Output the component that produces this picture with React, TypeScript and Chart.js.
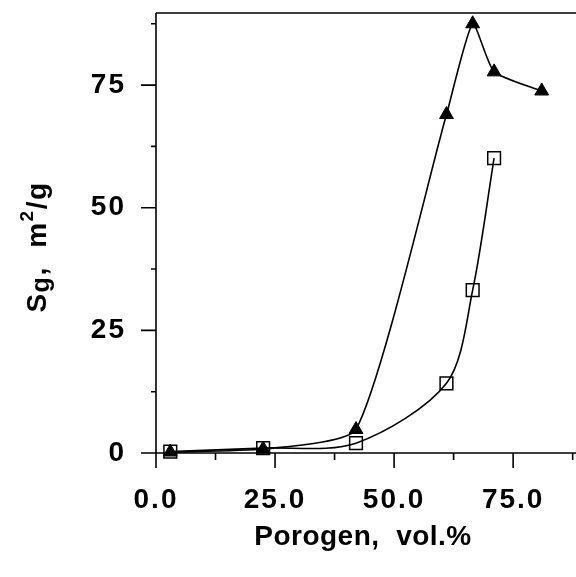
import React, { useEffect, useRef } from "react";
import { Chart, registerables } from "chart.js";

Chart.register(...registerables);

// ---- data ----
const triangleX = [3, 22.5, 42, 61, 66.5, 71, 81];
const triangleY = [0.2, 0.8, 4.8, 69, 87.5, 77.7, 73.8];
const squareX = [3, 22.5, 42, 61, 66.5, 71];
const squareY = [0.3, 1.0, 2.0, 14.2, 33.2, 60.1];

const xTickValues = [0, 12.5, 25, 37.5, 50, 62.5, 75, 87.5];
const xTickLabels = ["0.0", "25.0", "50.0", "75.0"];
const yTickValues = [0, 12.5, 25, 37.5, 50, 62.5, 75, 87.5];
const yTickLabels = ["0", "25", "50", "75"];

const X_MIN = 0;
const X_MAX = 88.2;
const Y_MIN = 0;
const Y_MAX = 89.7;

const xTitle = "Porogen,  vol.%";
const yTitleParts = [
  { text: "S", size: 28, shift: 0 },
  { text: "g", size: 25, shift: 3 },
  { text: ",  m", size: 28, shift: 0 },
  { text: "2", size: 19, shift: -13 },
  { text: "/g", size: 28, shift: 0 },
];

const FONT = '"Liberation Sans", Arial, sans-serif';

const decorPlugin = {
  id: "decor",
  beforeDraw(chart: any) {
    chart.ctx.letterSpacing = "2px";
  },
  afterDraw(chart: any) {
    const { ctx, chartArea: a, scales } = chart;
    const xs = scales.x;
    const ys = scales.y;
    ctx.save();
    ctx.letterSpacing = "0px";
    ctx.strokeStyle = "#000";
    ctx.lineWidth = 1.6;
    ctx.beginPath();
    ctx.moveTo(a.left, a.top);
    ctx.lineTo(a.left, a.bottom);
    ctx.moveTo(a.left, a.bottom);
    ctx.lineTo(a.right, a.bottom);
    ctx.moveTo(a.left, a.top);
    ctx.lineTo(a.right, a.top);
    for (const v of xTickValues) {
      const px = xs.getPixelForValue(v);
      const major = v % 25 === 0;
      ctx.moveTo(px, a.bottom);
      ctx.lineTo(px, a.bottom + (major ? 15 : 7));
    }
    for (const v of yTickValues) {
      const py = ys.getPixelForValue(v);
      const major = v % 25 === 0;
      ctx.moveTo(a.left, py);
      ctx.lineTo(a.left - (major ? 15 : 5), py);
    }
    ctx.stroke();

    // x title
    ctx.fillStyle = "#000";
    ctx.font = `bold 28px ${FONT}`;
    ctx.textAlign = "center";
    ctx.textBaseline = "alphabetic";
    ctx.letterSpacing = "0.5px";
    ctx.fillText(xTitle, (a.left + a.right) / 2 - 3, 545);

    // y title (rotated, with sub/superscript)
    ctx.letterSpacing = "1.5px";
    let total = 0;
    for (const p of yTitleParts) {
      ctx.font = `bold ${p.size}px ${FONT}`;
      total += ctx.measureText(p.text).width;
    }
    ctx.translate(46, 247);
    ctx.rotate(-Math.PI / 2);
    ctx.textAlign = "left";
    let cx = -total / 2;
    for (const p of yTitleParts) {
      ctx.font = `bold ${p.size}px ${FONT}`;
      ctx.fillText(p.text, cx, p.shift);
      cx += ctx.measureText(p.text).width;
    }
    ctx.restore();
  },
};

export default function App() {
  const ref = useRef<HTMLCanvasElement | null>(null);

  useEffect(() => {
    if (!ref.current) return;
    const tri = triangleX.map((x, i) => ({ x, y: triangleY[i] }));
    const sq = squareX.map((x, i) => ({ x, y: squareY[i] }));
    const chart = new Chart(ref.current, {
      type: "scatter",
      data: {
        datasets: [
          {
            label: "squares",
            data: sq,
            showLine: true,
            tension: 0.3,
            borderColor: "#000",
            borderWidth: 1.6,
            pointStyle: "rect",
            pointRadius: 9,
            pointBackgroundColor: "rgba(0,0,0,0)",
            pointBorderColor: "#000",
            pointBorderWidth: 1.5,
            fill: false,
            clip: false,
          } as any,
          {
            label: "triangles",
            data: tri,
            showLine: true,
            tension: 0.18,
            borderColor: "#000",
            borderWidth: 1.6,
            pointStyle: "triangle",
            pointRadius: 8,
            pointBackgroundColor: "#000",
            pointBorderColor: "#000",
            pointBorderWidth: 1,
            fill: false,
            clip: false,
          } as any,
        ],
      },
      options: {
        responsive: false,
        devicePixelRatio: 1,
        animation: false,
        events: [],
        layout: { autoPadding: false, padding: { top: 13, left: 0, right: 0, bottom: 0 } },
        plugins: {
          legend: { display: false },
          tooltip: { enabled: false },
          title: { display: false },
        },
        scales: {
          x: {
            type: "linear",
            min: X_MIN,
            max: X_MAX,
            grid: { display: false, drawTicks: false },
            border: { display: false },
            afterFit: (s: any) => {
              s.height = 124;
              s.paddingLeft = 0;
              s.paddingRight = 0;
            },
            ticks: {
              stepSize: 12.5,
              autoSkip: false,
              maxRotation: 0,
              padding: 30,
              color: "#000",
              font: { family: FONT, size: 28, weight: "bold" },
              callback: (v: any) => {
                const n = Number(v);
                const idx = xTickLabels.indexOf(n.toFixed(1));
                return n % 25 === 0 && idx >= 0 ? xTickLabels[idx] : "";
              },
            },
          },
          y: {
            type: "linear",
            min: Y_MIN,
            max: Y_MAX,
            grid: { display: false, drawTicks: false },
            border: { display: false },
            afterFit: (s: any) => {
              s.width = 156;
              s.paddingTop = 0;
              s.paddingBottom = 0;
            },
            ticks: {
              stepSize: 12.5,
              autoSkip: false,
              padding: 30,
              color: "#000",
              font: { family: FONT, size: 28, weight: "bold" },
              callback: (v: any) => {
                const n = Number(v);
                const idx = yTickLabels.indexOf(String(n));
                return n % 25 === 0 && idx >= 0 ? yTickLabels[idx] : "";
              },
            },
          },
        },
      } as any,
      plugins: [decorPlugin],
    });
    return () => chart.destroy();
  }, []);

  return (
    <div style={{ position: "absolute", left: 0, top: 0, width: 576, height: 577, background: "#fff" }}>
      <canvas ref={ref} width={576} height={577} style={{ width: 576, height: 577, display: "block" }} />
    </div>
  );
}
